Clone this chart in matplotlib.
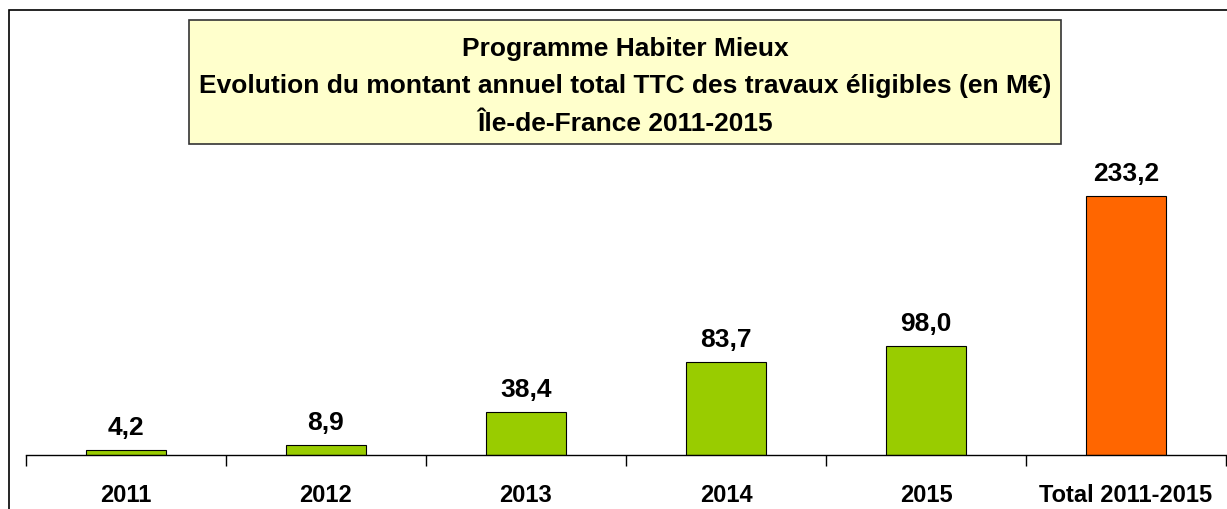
import numpy as np
import matplotlib.pyplot as plt
from matplotlib.patches import Rectangle

categories = ['2011', '2012', '2013', '2014', '2015', 'Total 2011-2015']
valeurs = [4.2, 8.9, 38.4, 83.7, 98.0, 233.2]
etiquettes = ['4,2', '8,9', '38,4', '83,7', '98,0', '233,2']
couleurs = ['#99CC00'] * 5 + ['#FF6600']
titre = ['Programme Habiter Mieux',
         'Evolution du montant annuel total TTC des travaux éligibles (en M€)',
         'Île-de-France 2011-2015']

plt.rcParams['font.family'] = ['Liberation Sans', 'DejaVu Sans']

W, H = 1227, 510
fig = plt.figure(figsize=(W / 100, H / 100), dpi=100)

# cadre du graphique (coupé en bas et à droite)
fig.patches.append(Rectangle((9 / W, -0.1), 1.2, (H - 11) / H + 0.1,
                             transform=fig.transFigure, fill=False,
                             edgecolor='black', linewidth=1.2))

ax = fig.add_axes([26 / W, (H - 456) / H, 1200 / W, 445 / H])
x = np.arange(len(categories))
ax.bar(x, valeurs, width=0.4, color=couleurs, edgecolor='black', linewidth=0.8)
ax.set_xlim(-0.5, len(categories) - 0.5)
ax.set_ylim(0, 400.5)

for xi, v, lab in zip(x, valeurs, etiquettes):
    ax.text(xi, v + 14.5, lab, ha='center', va='baseline', fontsize=19, fontweight='bold')

for s in ['top', 'right', 'left']:
    ax.spines[s].set_visible(False)
ax.spines['bottom'].set_linewidth(1)
ax.set_yticks([])
ax.set_xticks(np.arange(-0.5, len(categories)), minor=False)
ax.set_xticklabels([])
ax.tick_params(axis='x', direction='out', length=8, width=1)
ax.set_xticks(x, minor=True)
ax.set_xticklabels(categories, minor=True, fontsize=17, fontweight='bold')
ax.tick_params(axis='x', which='minor', length=0, pad=20)

# encadré du titre
fig.patches.append(Rectangle((189 / W, (H - 145) / H), 872 / W, 124 / H,
                             transform=fig.transFigure, facecolor='#FFFFCC',
                             edgecolor='#333333', linewidth=1.2))
for i, ligne in enumerate(titre):
    fig.text(625 / W, (H - 56 - 37.5 * i) / H, ligne, ha='center', va='baseline',
             fontsize=19, fontweight='bold')

fig.savefig('out.png', dpi=100)
